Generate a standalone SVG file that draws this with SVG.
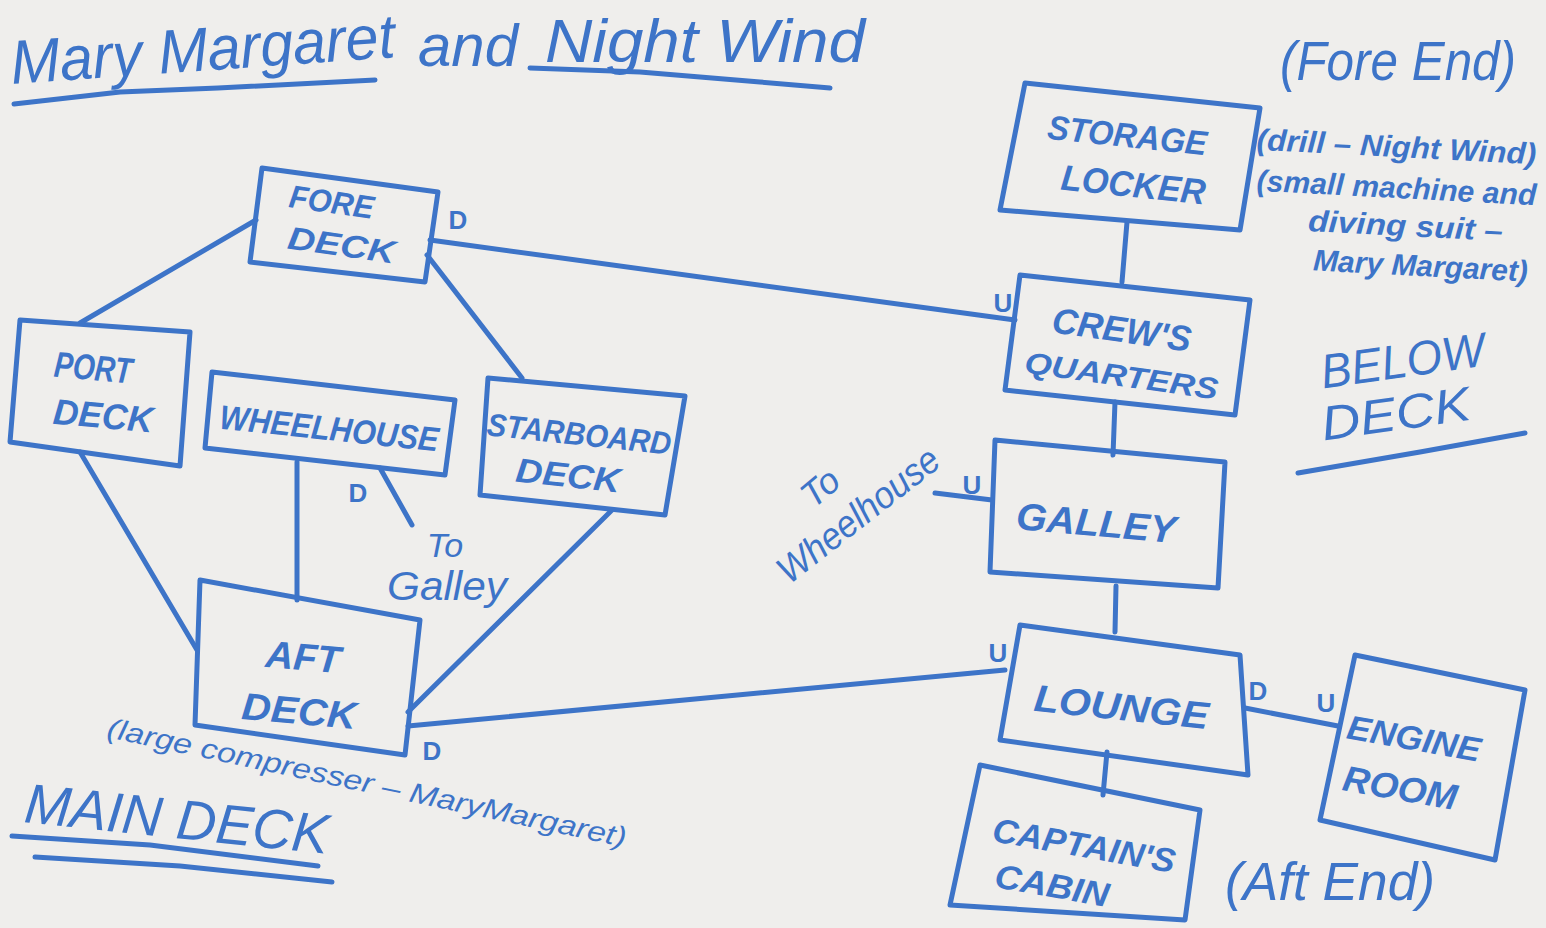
<svg xmlns="http://www.w3.org/2000/svg" width="1546" height="928" viewBox="0 0 1546 928">
<style>
.bg{fill:#efeeec}
.box{fill:none;stroke:#3d74c8;stroke-width:5;stroke-linejoin:round;stroke-linecap:round}
.ln{fill:none;stroke:#3d74c8;stroke-width:5;stroke-linecap:round}
.t{font-family:"Liberation Sans",Arial,sans-serif;fill:#3d74c8;font-style:italic;text-anchor:middle;font-weight:bold}
.h{font-family:"Liberation Sans",Arial,sans-serif;fill:#3d74c8;font-style:italic}
.lab{font-family:"Liberation Sans",Arial,sans-serif;fill:#3d74c8;font-weight:bold;font-size:26px;text-anchor:middle}
</style>
<rect class="bg" x="0" y="0" width="1546" height="928"/>

<g id="title">
<text class="h" x="12" y="84" font-size="62" textLength="385" lengthAdjust="spacingAndGlyphs" transform="rotate(-4 12 84)">Mary Margaret</text>
<text class="h" x="418" y="66" font-size="60" textLength="100" lengthAdjust="spacingAndGlyphs">and</text>
<text class="h" x="545" y="62" font-size="62" textLength="320" lengthAdjust="spacingAndGlyphs">Night Wind</text>
<path class="ln" d="M14 104 L120 92 L218 88 L375 80"/>
<path class="ln" d="M530 68 L640 72 L760 82 L830 88"/>
</g>

<g id="connectors">
<path class="ln" d="M256 220 L80 323"/>
<path class="ln" d="M427 255 L522 378"/>
<path class="ln" d="M430 240 L1015 320"/>
<path class="ln" d="M80 452 L197 650"/>
<path class="ln" d="M297 462 L297 600"/>
<path class="ln" d="M380 468 L412 525"/>
<path class="ln" d="M612 510 L408 712"/>
<path class="ln" d="M408 726 L1005 670"/>
<path class="ln" d="M1127 222 L1122 282"/>
<path class="ln" d="M1115 402 L1113 455"/>
<path class="ln" d="M935 493 L992 500"/>
<path class="ln" d="M1116 586 L1115 632"/>
<path class="ln" d="M1245 708 L1338 726"/>
<path class="ln" d="M1107 752 L1103 795"/>
</g>

<g id="fore-deck">
<polygon class="box" points="262,168 438,192 425,282 250,262"/>
<text class="t" x="330" y="213" font-size="32" textLength="85" lengthAdjust="spacingAndGlyphs" transform="rotate(8 330 213)">FORE</text>
<text class="t" x="340" y="256" font-size="32" textLength="108" lengthAdjust="spacingAndGlyphs" transform="rotate(8 340 256)">DECK</text>
<text class="lab" x="458" y="229">D</text>
</g>

<g id="port-deck">
<polygon class="box" points="20,320 190,332 180,466 10,442"/>
<text class="t" x="92" y="380" font-size="36" textLength="78" lengthAdjust="spacingAndGlyphs" transform="rotate(5 92 380)">PORT</text>
<text class="t" x="102" y="428" font-size="36" textLength="100" lengthAdjust="spacingAndGlyphs" transform="rotate(5 102 428)">DECK</text>
</g>

<g id="wheelhouse">
<polygon class="box" points="212,372 455,400 445,475 205,448"/>
<text class="t" x="328" y="440" font-size="34" textLength="220" lengthAdjust="spacingAndGlyphs" transform="rotate(6 328 440)">WHEELHOUSE</text>
<text class="lab" x="358" y="502">D</text>
<text class="h" x="445" y="557" font-size="34" text-anchor="middle">To</text>
<text class="h" x="447" y="600" font-size="40" text-anchor="middle" textLength="120" lengthAdjust="spacingAndGlyphs" font-style="normal">Galley</text>
</g>

<g id="starboard-deck">
<polygon class="box" points="488,378 685,396 665,515 480,495"/>
<text class="t" x="578" y="445" font-size="32" textLength="185" lengthAdjust="spacingAndGlyphs" transform="rotate(6 578 445)">STARBOARD</text>
<text class="t" x="567" y="487" font-size="34" textLength="105" lengthAdjust="spacingAndGlyphs" transform="rotate(6 567 487)">DECK</text>
</g>

<g id="aft-deck">
<polygon class="box" points="200,580 420,620 405,755 195,725"/>
<text class="t" x="302" y="670" font-size="38" textLength="75" lengthAdjust="spacingAndGlyphs" transform="rotate(5 302 670)">AFT</text>
<text class="t" x="298" y="724" font-size="38" textLength="115" lengthAdjust="spacingAndGlyphs" transform="rotate(5 298 724)">DECK</text>
<text class="lab" x="432" y="760">D</text>
<text class="h" x="365" y="792" font-size="28" text-anchor="middle" textLength="530" lengthAdjust="spacingAndGlyphs" transform="rotate(12 365 792)">(large compresser – MaryMargaret)</text>
</g>

<g id="main-deck-label">
<text class="h" x="175" y="838" font-size="56" text-anchor="middle" textLength="305" lengthAdjust="spacingAndGlyphs" transform="rotate(6 175 838)">MAIN DECK</text>
<path class="ln" d="M12 836 L150 845 L318 866"/>
<path class="ln" d="M35 857 L180 866 L332 882"/>
</g>

<g id="storage-locker">
<polygon class="box" points="1025,83 1260,108 1240,230 1000,210"/>
<text class="t" x="1126" y="147" font-size="34" textLength="160" lengthAdjust="spacingAndGlyphs" transform="rotate(6 1126 147)">STORAGE</text>
<text class="t" x="1132" y="197" font-size="36" textLength="145" lengthAdjust="spacingAndGlyphs" transform="rotate(6 1132 197)">LOCKER</text>
</g>

<g id="fore-end">
<text class="h" x="1398" y="80" font-size="56" text-anchor="middle" textLength="236" lengthAdjust="spacingAndGlyphs">(Fore End)</text>
<text class="t" x="1396" y="157" font-size="30" textLength="280" lengthAdjust="spacingAndGlyphs" transform="rotate(3 1396 157)">(drill – Night Wind)</text>
<text class="t" x="1396" y="198" font-size="30" textLength="280" lengthAdjust="spacingAndGlyphs" transform="rotate(3 1396 198)">(small machine and</text>
<text class="t" x="1405" y="236" font-size="30" textLength="195" lengthAdjust="spacingAndGlyphs" transform="rotate(3 1405 236)">diving suit –</text>
<text class="t" x="1420" y="276" font-size="30" textLength="215" lengthAdjust="spacingAndGlyphs" transform="rotate(3 1420 276)">Mary Margaret)</text>
</g>

<g id="crews-quarters">
<polygon class="box" points="1020,275 1250,300 1235,415 1005,390"/>
<text class="t" x="1120" y="342" font-size="36" textLength="140" lengthAdjust="spacingAndGlyphs" transform="rotate(8 1120 342)">CREW'S</text>
<text class="t" x="1120" y="386" font-size="30" textLength="195" lengthAdjust="spacingAndGlyphs" transform="rotate(8 1120 386)">QUARTERS</text>
<text class="lab" x="1003" y="312">U</text>
</g>

<g id="below-deck-label">
<text class="h" x="1405" y="377" font-size="48" text-anchor="middle" textLength="165" lengthAdjust="spacingAndGlyphs" transform="rotate(-8 1405 377)">BELOW</text>
<text class="h" x="1398" y="430" font-size="48" text-anchor="middle" textLength="150" lengthAdjust="spacingAndGlyphs" transform="rotate(-8 1398 430)">DECK</text>
<path class="ln" d="M1298 473 L1420 452 L1525 433"/>
</g>

<g id="galley">
<polygon class="box" points="995,440 1225,462 1218,588 990,572"/>
<text class="t" x="1095" y="536" font-size="38" textLength="160" lengthAdjust="spacingAndGlyphs" transform="rotate(5 1095 536)">GALLEY</text>
<text class="lab" x="972" y="494">U</text>
<text class="h" x="828" y="497" font-size="36" text-anchor="middle" transform="rotate(-40 828 497)">To</text>
<text class="h" x="866" y="525" font-size="38" text-anchor="middle" textLength="195" lengthAdjust="spacingAndGlyphs" transform="rotate(-38 866 525)">Wheelhouse</text>
</g>

<g id="lounge">
<polygon class="box" points="1020,625 1240,655 1248,775 1000,740"/>
<text class="t" x="1120" y="720" font-size="38" textLength="175" lengthAdjust="spacingAndGlyphs" transform="rotate(6 1120 720)">LOUNGE</text>
<text class="lab" x="998" y="662">U</text>
<text class="lab" x="1258" y="700">D</text>
</g>

<g id="engine-room">
<polygon class="box" points="1355,655 1525,690 1495,860 1320,820"/>
<text class="t" x="1412" y="750" font-size="34" textLength="135" lengthAdjust="spacingAndGlyphs" transform="rotate(10 1412 750)">ENGINE</text>
<text class="t" x="1398" y="800" font-size="36" textLength="115" lengthAdjust="spacingAndGlyphs" transform="rotate(10 1398 800)">ROOM</text>
<text class="lab" x="1326" y="712">U</text>
</g>

<g id="captains-cabin">
<polygon class="box" points="980,765 1200,810 1185,920 950,905"/>
<text class="t" x="1082" y="857" font-size="34" textLength="185" lengthAdjust="spacingAndGlyphs" transform="rotate(10 1082 857)">CAPTAIN'S</text>
<text class="t" x="1050" y="897" font-size="34" textLength="115" lengthAdjust="spacingAndGlyphs" transform="rotate(10 1050 897)">CABIN</text>
</g>

<g id="aft-end">
<text class="h" x="1330" y="900" font-size="54" text-anchor="middle" textLength="210" lengthAdjust="spacingAndGlyphs">(Aft End)</text>
</g>
</svg>
